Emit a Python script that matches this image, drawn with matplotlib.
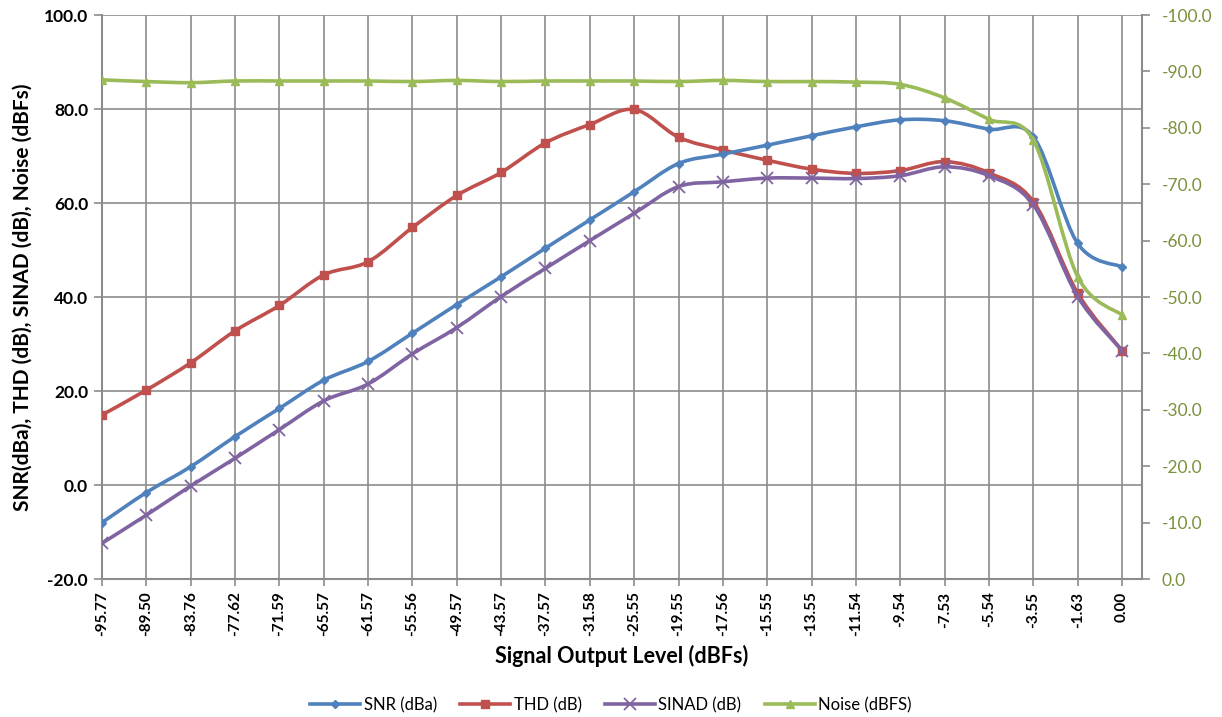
import matplotlib
matplotlib.use("Agg")
import matplotlib.pyplot as plt
from matplotlib.path import Path
from matplotlib.patches import PathPatch
from matplotlib.lines import Line2D
import numpy as np

categories = ["-95.77", "-89.50", "-83.76", "-77.62", "-71.59", "-65.57", "-61.57",
              "-55.56", "-49.57", "-43.57", "-37.57", "-31.58", "-25.55", "-19.55",
              "-17.56", "-15.55", "-13.55", "-11.54", "-9.54", "-7.53", "-5.54",
              "-3.55", "-1.63", "0.00"]
snr = [-8.0, -1.6, 3.9, 10.3, 16.3, 22.3, 26.3, 32.3, 38.4, 44.3, 50.4, 56.4, 62.4,
       68.4, 70.4, 72.3, 74.3, 76.2, 77.7, 77.5, 75.7, 74.1, 51.4, 46.4]
thd = [14.9, 20.2, 26.0, 32.8, 38.2, 44.7, 47.5, 54.8, 61.6, 66.5, 72.8, 76.7, 79.9,
       74.0, 71.3, 69.1, 67.2, 66.3, 66.9, 68.8, 66.4, 60.3, 40.8, 28.6]
sinad = [-12.4, -6.4, -0.2, 5.7, 11.8, 17.9, 21.5, 27.9, 33.5, 40.1, 46.1, 52.0, 57.8,
         63.5, 64.5, 65.3, 65.3, 65.2, 65.8, 67.7, 65.8, 59.6, 40.1, 28.6]
noise = [-88.5, -88.2, -88.0, -88.3, -88.3, -88.3, -88.3, -88.2, -88.4, -88.2, -88.3,
         -88.3, -88.3, -88.2, -88.4, -88.2, -88.2, -88.1, -87.7, -85.3, -81.5, -77.8,
         -53.6, -46.8]

C_SNR = "#4F81BD"
C_THD = "#C0504D"
C_SIN = "#8064A2"
C_NOI = "#9BBB59"
GRID = "#8C8C8C"

plt.rcParams['font.family'] = ['Lato', 'DejaVu Sans']

fig = plt.figure(figsize=(12.22, 7.17), dpi=100)
ax = fig.add_axes([102/1222, 1-579/717, (1142-102)/1222, (579-15)/717])
ax2 = ax.twinx()

x = np.arange(len(categories))


def smooth_path(xs, ys):
    xs = list(xs); ys = list(ys)
    n = len(xs)
    verts = [(xs[0], ys[0])]
    codes = [Path.MOVETO]
    for i in range(n - 1):
        p0 = (xs[i-1], ys[i-1]) if i > 0 else (xs[i], ys[i])
        p1 = (xs[i], ys[i])
        p2 = (xs[i+1], ys[i+1])
        p3 = (xs[i+2], ys[i+2]) if i + 2 < n else p2
        c1 = (p1[0] + (p2[0]-p0[0])/6, p1[1] + (p2[1]-p0[1])/6)
        c2 = (p2[0] - (p3[0]-p1[0])/6, p2[1] - (p3[1]-p1[1])/6)
        verts += [c1, c2, p2]
        codes += [Path.CURVE4]*3
    return Path(verts, codes)


def draw(axis, ys, color, marker, ms, mew, z):
    patch = PathPatch(smooth_path(x, ys), facecolor='none', edgecolor=color,
                      lw=2.6, zorder=z, capstyle='round', joinstyle='round')
    axis.add_patch(patch)
    axis.plot(x, ys, linestyle='none', marker=marker, ms=ms, color=color,
              mec=color, mew=mew, zorder=z+0.1)


draw(ax, thd, C_THD, 's', 6, 1, 3)
draw(ax, snr, C_SNR, 'D', 4, 1, 4)
draw(ax, sinad, C_SIN, 'x', 8, 1.3, 5)
draw(ax2, noise, C_NOI, '^', 6, 1, 6)
ax.set_zorder(1); ax2.set_zorder(2); ax2.patch.set_visible(False)

ax.set_xlim(0, 23.45)
ax.set_ylim(-20, 100)
ax.set_yticks(np.arange(-20, 101, 20))
ax.set_yticklabels([f"{v:.1f}" for v in np.arange(-20, 101, 20)],
                   fontsize=12.5, fontweight='bold')
ax2.set_ylim(0, -100)
ax2.set_yticks(np.arange(0, -101, -10))
ax2.set_yticklabels([f"{v:.1f}" for v in np.arange(0, -101, -10)],
                    fontsize=12.5, color="#77933C")

ax.set_xticks(x)
ax.set_xticklabels(categories, rotation=90, fontsize=11, fontweight='bold')

ax.grid(True, color=GRID, lw=1.2)
ax.set_axisbelow(True)
for sp in ['top']:
    ax.spines[sp].set_visible(False)
    ax2.spines[sp].set_visible(False)
ax2.spines['left'].set_visible(False)
ax.spines['right'].set_visible(False)
ax.spines['left'].set_color(GRID)
ax.spines['bottom'].set_color(GRID)
ax2.spines['right'].set_color(GRID)
ax2.spines['bottom'].set_visible(False)
for sp in ['left', 'bottom']:
    ax.spines[sp].set_linewidth(1.5)
ax2.spines['right'].set_linewidth(1.5)

ax.tick_params(axis='y', length=6, color=GRID, width=1.2, pad=4)
ax.tick_params(axis='x', length=5, color=GRID, width=1.2, pad=4)
ax2.tick_params(axis='y', length=6, color=GRID, width=1.2, pad=8)

ax.set_ylabel("SNR(dBa), THD (dB), SINAD (dB), Noise (dBFs)", fontsize=15,
              fontweight='bold', labelpad=8)
ax.set_xlabel("Signal Output Level (dBFs)", fontsize=15.5, fontweight='bold', labelpad=6)

handles = [
    Line2D([], [], color=C_SNR, lw=2.6, marker='D', ms=4),
    Line2D([], [], color=C_THD, lw=2.6, marker='s', ms=6),
    Line2D([], [], color=C_SIN, lw=2.6, marker='x', ms=8, mew=1.3),
    Line2D([], [], color=C_NOI, lw=2.6, marker='^', ms=6),
]
labels = ["SNR (dBa)", "THD (dB)", "SINAD (dB)", "Noise (dBFS)"]
fig.legend(handles, labels, loc='center', bbox_to_anchor=(0.5, 1-705/717),
           ncol=4, frameon=False, fontsize=12, handlelength=3.0, handletextpad=0.2,
           columnspacing=1.4)

fig.savefig("out.png", dpi=100)
